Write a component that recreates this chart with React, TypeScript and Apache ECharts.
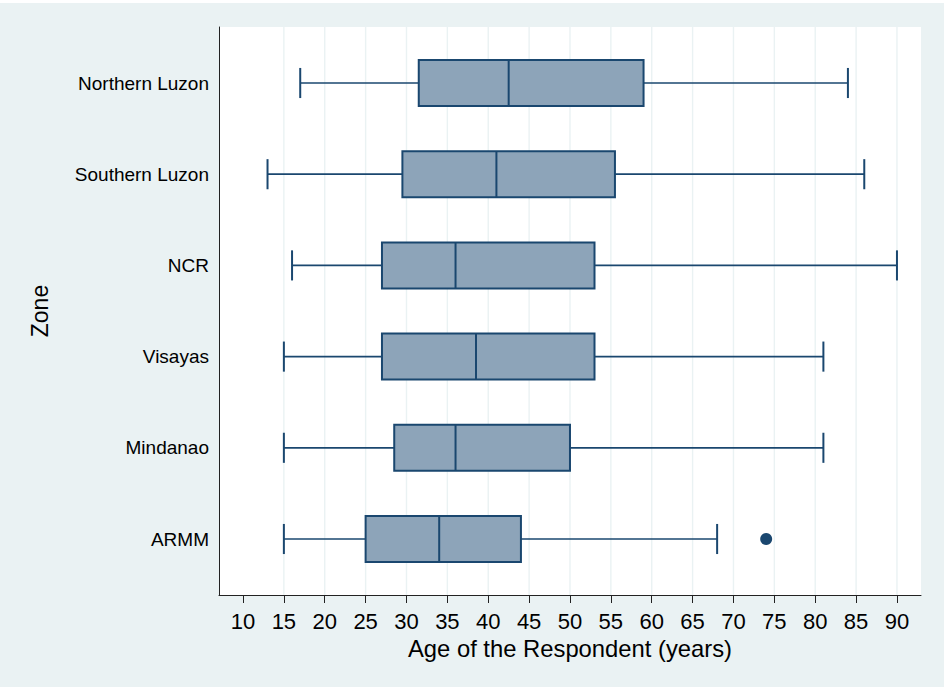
import React, { useEffect, useRef } from "react";
import * as echarts from "echarts";

const zones = ["Northern Luzon", "Southern Luzon", "NCR", "Visayas", "Mindanao", "ARMM"];
const lowerWhisker = [17, 13, 16, 15, 15, 15];
const q1 = [31.5, 29.5, 27, 27, 28.5, 25];
const median = [42.5, 41, 36, 38.5, 36, 34];
const q3 = [59, 55.5, 53, 53, 50, 44];
const upperWhisker = [84, 86, 90, 81, 81, 68];
const outlierValues = [74];
const outlierZones = ["ARMM"];
const xTicks = [10, 15, 20, 25, 30, 35, 40, 45, 50, 55, 60, 65, 70, 75, 80, 85, 90];
const gridValues = [15, 20, 25, 30, 35, 40, 45, 50, 55, 60, 65, 70, 75, 80, 85, 90];

const NAVY = "#1a476f";
const FILL = "#8da4b9";
const BG = "#eaf2f3";
const FONT = "'Liberation Sans', Arial, Helvetica, sans-serif";
const X_MIN = 7.064;
const X_MAX = 92.94;

export default function App() {
  const ref = useRef<HTMLDivElement>(null);
  useEffect(() => {
    if (!ref.current) return;
    const chart = echarts.init(ref.current, null, { renderer: "svg" });
    const boxData = zones.map((_, i) => [i, lowerWhisker[i], q1[i], median[i], q3[i], upperWhisker[i]]);
    const option: any = {
      animation: false,
      backgroundColor: "#ffffff",
      textStyle: { fontFamily: FONT },
      graphic: [
        {
          type: "rect",
          z: -100,
          silent: true,
          shape: { x: 0, y: 3, width: 944, height: 684 },
          style: { fill: BG },
        },
      ],
      grid: [
        { left: 219, right: 23, top: 27, bottom: 92, show: true, backgroundColor: "#ffffff", borderWidth: 0, containLabel: false },
        { left: 219, right: 23, top: 37.4, bottom: 102.4, show: false, containLabel: false },
      ],
      xAxis: [
        {
          gridIndex: 0,
          type: "value",
          min: X_MIN,
          max: X_MAX,
          axisLine: { show: true, onZero: false, lineStyle: { color: "#222", width: 1 } },
          axisTick: { show: true, length: 8, customValues: xTicks, lineStyle: { color: "#222", width: 1 } },
          axisLabel: { show: true, customValues: xTicks, fontSize: 22, color: "#000", margin: 15, fontFamily: FONT },
          splitLine: { show: false },
          name: "Age of the Respondent (years)",
          nameLocation: "middle",
          nameGap: 38.5,
          nameTextStyle: { fontSize: 23.8, color: "#000", fontFamily: FONT },
        },
        {
          gridIndex: 1,
          type: "value",
          min: X_MIN,
          max: X_MAX,
          show: false,
        },
      ],
      yAxis: [
        {
          gridIndex: 0,
          type: "value",
          min: 0,
          max: 1,
          axisLine: { show: true, onZero: false, lineStyle: { color: "#222", width: 1 } },
          axisTick: { show: false },
          axisLabel: { show: false },
          splitLine: { show: false },
          name: "Zone",
          nameLocation: "middle",
          nameGap: 168,
          nameTextStyle: { fontSize: 23, color: "#000", fontFamily: FONT },
        },
        {
          gridIndex: 1,
          type: "category",
          data: zones,
          inverse: true,
          axisLine: { show: false },
          axisTick: { show: false },
          axisLabel: { fontSize: 19, color: "#000", margin: 10, fontFamily: FONT },
          splitLine: { show: false },
        },
      ],
      series: [
        {
          type: "custom",
          xAxisIndex: 0,
          yAxisIndex: 0,
          z: 1,
          silent: true,
          data: gridValues.map((v) => [v, 0]),
          renderItem: (params: any, api: any) => {
            const v = api.value(0);
            const p0 = api.coord([v, 0]);
            const p1 = api.coord([v, 1]);
            return {
              type: "line",
              shape: { x1: p0[0], y1: p0[1], x2: p1[0], y2: p1[1] },
              style: { stroke: BG, lineWidth: 1.4 },
            };
          },
        },
        {
          type: "custom",
          xAxisIndex: 1,
          yAxisIndex: 1,
          z: 2,
          dimensions: ["zone", "lw", "q1", "med", "q3", "uw"],
          encode: { y: 0, x: [1, 2, 3, 4, 5] },
          data: boxData,
          renderItem: (params: any, api: any) => {
            const cat = api.value(0);
            const pLw = api.coord([api.value(1), cat]);
            const pQ1 = api.coord([api.value(2), cat]);
            const pMed = api.coord([api.value(3), cat]);
            const pQ3 = api.coord([api.value(4), cat]);
            const pUw = api.coord([api.value(5), cat]);
            const band = api.size([0, 1])[1];
            const halfBox = band * 0.252;
            const halfCap = band * 0.165;
            const y = pLw[1];
            const lineStyle = { stroke: NAVY, lineWidth: 1.7 };
            return {
              type: "group",
              children: [
                { type: "line", shape: { x1: pLw[0], y1: y, x2: pQ1[0], y2: y }, style: lineStyle },
                { type: "line", shape: { x1: pQ3[0], y1: y, x2: pUw[0], y2: y }, style: lineStyle },
                { type: "line", shape: { x1: pLw[0], y1: y - halfCap, x2: pLw[0], y2: y + halfCap }, style: { stroke: NAVY, lineWidth: 2 } },
                { type: "line", shape: { x1: pUw[0], y1: y - halfCap, x2: pUw[0], y2: y + halfCap }, style: { stroke: NAVY, lineWidth: 2 } },
                {
                  type: "rect",
                  shape: { x: pQ1[0], y: y - halfBox, width: pQ3[0] - pQ1[0], height: halfBox * 2 },
                  style: { fill: FILL, stroke: NAVY, lineWidth: 2 },
                },
                { type: "line", shape: { x1: pMed[0], y1: y - halfBox, x2: pMed[0], y2: y + halfBox }, style: { stroke: NAVY, lineWidth: 2 } },
              ],
            };
          },
        },
        {
          type: "scatter",
          xAxisIndex: 1,
          yAxisIndex: 1,
          z: 3,
          symbol: "circle",
          symbolSize: 12,
          itemStyle: { color: NAVY, opacity: 1 },
          data: outlierValues.map((v, i) => [v, outlierZones[i]]),
        },
      ],
    };
    chart.setOption(option);
    return () => chart.dispose();
  }, []);
  return <div ref={ref} style={{ position: "fixed", left: 0, top: 0, width: 944, height: 687 }} />;
}
